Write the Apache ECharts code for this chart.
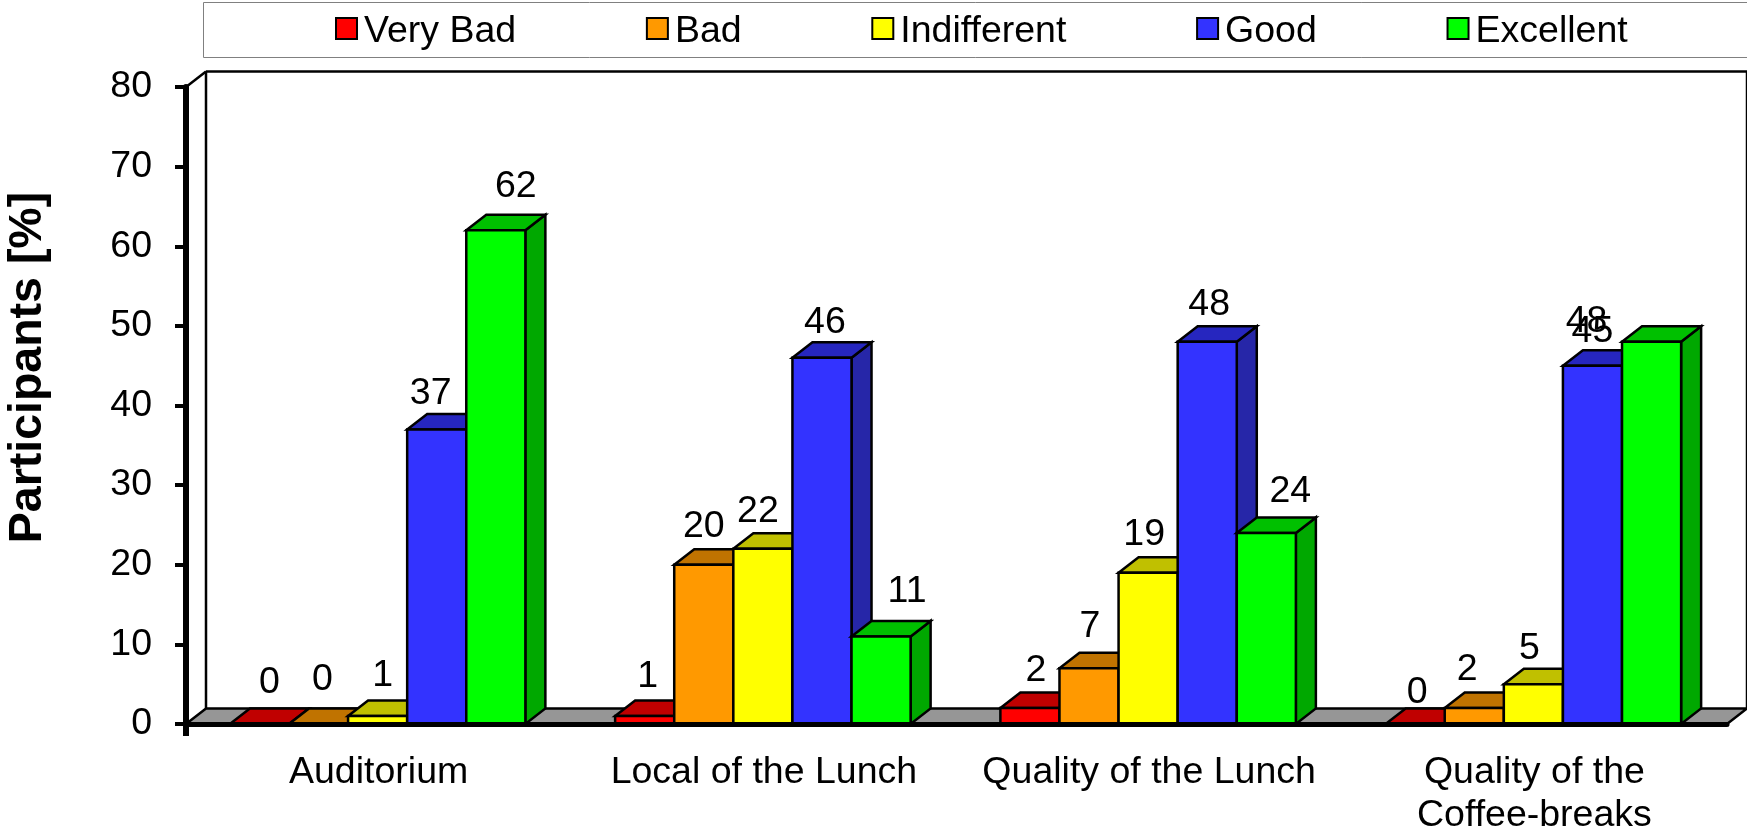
<!DOCTYPE html>
<html>
<head>
<meta charset="utf-8">
<script src="https://cdn.jsdelivr.net/npm/echarts@6/dist/echarts.min.js"></script>
<style>
  html, body { margin: 0; padding: 0; background: #fff; }
  #main { width: 1747px; height: 826px; }
</style>
</head>
<body>
<div id="main"></div>
<script>
const categories = ['Auditorium', 'Local of the Lunch', 'Quality of the Lunch', 'Quality of the\nCoffee-breaks'];
const veryBad = [0, 1, 2, 0];
const bad = [0, 20, 7, 2];
const indifferent = [1, 22, 19, 5];
const good = [37, 46, 48, 45];
const excellent = [62, 11, 24, 48];
const yTicks = { min: 0, max: 80, interval: 10 };

const FONT = '"Liberation Sans", Arial, sans-serif';
const DX = 20, DY = 15.5;
const BAR_RATIO = 0.1534;

// the labels were hand placed in the original, so each one has its own nudge [x, y]
const seriesDefs = [
  { name: 'Very Bad', values: veryBad, front: '#ff0000', top: '#c00000', side: '#a80000',
    nudge: [[10, -41], [3, -39], [6, -37], [2, -31]] },
  { name: 'Bad', values: bad, front: '#ff9900', top: '#c07300', side: '#a86500',
    nudge: [[4, -44], [0, -38], [1, -42], [-7, -38]] },
  { name: 'Indifferent', values: indifferent, front: '#ffff00', top: '#c0c000', side: '#a8a800',
    nudge: [[5, -40], [-5, -37], [-4, -38], [-4, -36]] },
  { name: 'Good', values: good, front: '#3333ff', top: '#2626bf', side: '#2626a8',
    nudge: [[-6, -36], [3, -35], [2, -37], [0, -34]] },
  { name: 'Excellent', values: excellent, front: '#00ff00', top: '#00c000', side: '#00a800',
    nudge: [[20, -44], [26, -45], [24, -41], [-65, -20]] }
];

function poly(points, fill) {
  return {
    type: 'polygon',
    shape: { points: points },
    style: { fill: fill, stroke: '#000', lineWidth: 2.5, lineJoin: 'miter' }
  };
}

function renderBar(def, seriesIndex) {
  return function (params, api) {
    const cat = api.value(0);
    const base = api.coord([cat, 0]);
    const tip = api.coord([cat, api.value(1)]);
    const w = api.size([1, 0])[0] * BAR_RATIO;
    const x0 = base[0] - 1 + (seriesIndex - 2.5) * w;
    const x1 = x0 + w;
    const y0 = base[1];
    const y1 = tip[1];
    const off = def.nudge[cat];
    return {
      type: 'group',
      children: [
        poly([[x1, y1], [x1 + DX, y1 - DY], [x1 + DX, y0 - DY], [x1, y0]], def.side),
        poly([[x0, y1], [x0 + DX, y1 - DY], [x1 + DX, y1 - DY], [x1, y1]], def.top),
        poly([[x0, y0], [x1, y0], [x1, y1], [x0, y1]], def.front),
        {
          type: 'text',
          z2: 100,
          x: (x0 + x1) / 2 + off[0],
          y: y1 + off[1],
          style: {
            text: String(api.value(1)),
            font: '37.5px ' + FONT,
            fill: '#000',
            align: 'center',
            verticalAlign: 'middle'
          }
        }
      ]
    };
  };
}

function renderFrame(params) {
  const r = params.coordSys;
  const l = r.x, t = r.y, b = r.y + r.height, e = r.x + r.width;
  const line = (x1, y1, x2, y2, lw, color) => ({
    type: 'line',
    shape: { x1, y1, x2, y2 },
    style: { stroke: color || '#000', lineWidth: lw }
  });
  return {
    type: 'group',
    children: [
      line(l + DX, t - DY, l + DX, b - DY, 2.5),
      line(l + DX, t - DY, e + DX, t - DY, 2.5),
      line(e + DX, t - DY, e + DX, b - DY, 2.5),
      line(l, t, l + DX, t - DY, 2.5),
      poly([[l, b], [l + DX, b - DY], [e + DX, b - DY], [e, b]], '#969696'),
      line(l, b, l, b + 12, 6)
    ]
  };
}

const barSeries = seriesDefs.map(function (def, i) {
  return {
    type: 'custom',
    name: def.name,
    coordinateSystem: 'cartesian2d',
    z: 3,
    itemStyle: { color: def.front, borderColor: '#000', borderWidth: 2.5 },
    encode: { x: 0, y: 1 },
    data: def.values.map((v, c) => [c, v]),
    renderItem: renderBar(def, i)
  };
});

const frameSeries = {
  type: 'custom',
  name: 'frame',
  coordinateSystem: 'cartesian2d',
  silent: true,
  z: 1,
  data: [[0, 0]],
  renderItem: renderFrame
};

const chart = echarts.init(document.getElementById('main'));
chart.setOption({
  animation: false,
  backgroundColor: '#fff',
  textStyle: { fontFamily: FONT },
  graphic: [{
    type: 'rect',
    shape: { x: 203.5, y: 2.5, width: 1560, height: 55 },
    style: { fill: '#fff', stroke: '#808080', lineWidth: 1 },
    z: -1
  }],
  legend: {
    data: seriesDefs.map(d => d.name),
    left: 330,
    top: 8,
    icon: 'rect',
    itemWidth: 21,
    itemHeight: 21,
    itemGap: 129.7,
    selectedMode: false,
    formatter: '{t|{name}}',
    textStyle: {
      fontFamily: FONT,
      fontSize: 37.5,
      color: '#000',
      rich: { t: { fontFamily: FONT, fontSize: 37.5, color: '#000', padding: [7, 0, 0, 2] } }
    }
  },
  grid: { left: 186, right: 20, top: 87, bottom: 102, outerBoundsMode: 'none' },
  xAxis: {
    type: 'category',
    data: categories,
    z: 5,
    axisLine: { lineStyle: { color: '#000', width: 5 } },
    axisTick: { show: false },
    axisLabel: { color: '#000', fontFamily: FONT, fontSize: 37.5, lineHeight: 43, margin: 27, interval: 0 }
  },
  yAxis: {
    type: 'value',
    min: yTicks.min,
    max: yTicks.max,
    interval: yTicks.interval,
    z: 5,
    name: 'Participants [%]',
    nameLocation: 'middle',
    nameGap: 134,
    nameRotate: 90,
    nameTextStyle: { color: '#000', fontFamily: FONT, fontSize: 46.5, fontWeight: 'bold', padding: [0, 0, 0, 76] },
    axisLine: { show: true, lineStyle: { color: '#000', width: 6 } },
    axisTick: { show: true, length: 11, lineStyle: { color: '#000', width: 4 } },
    axisLabel: { color: '#000', fontFamily: FONT, fontSize: 37.5, margin: 34, padding: [12, 0, 0, 0] },
    splitLine: { show: false }
  },
  series: [frameSeries].concat(barSeries)
});
</script>
</body>
</html>
